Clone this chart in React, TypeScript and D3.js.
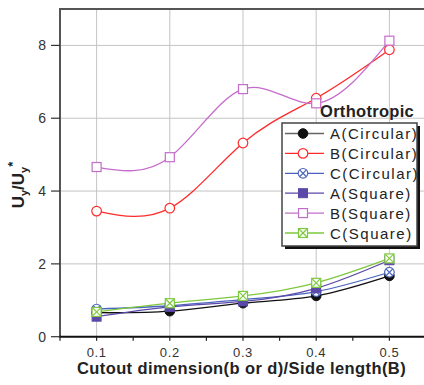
import React from "react";
import * as d3 from "d3";

const xs = [0.1, 0.2, 0.3, 0.4, 0.5];
const aCircular = [0.66, 0.7, 0.92, 1.12, 1.67];
const bCircular = [3.45, 3.53, 5.32, 6.55, 7.88];
const cCircular = [0.76, 0.85, 1.02, 1.24, 1.77];
const aSquare = [0.55, 0.82, 0.97, 1.33, 2.1];
const bSquare = [4.66, 4.93, 6.8, 6.41, 8.13];
const cSquare = [0.68, 0.92, 1.12, 1.48, 2.15];
const xTickLabels = ["0.1", "0.2", "0.3", "0.4", "0.5"];
const yTicks = [0, 2, 4, 6, 8];
const seriesNames = ["A(Circular)", "B(Circular)", "C(Circular)", "A(Square)", "B(Square)", "C(Square)"];

type Marker = "filledCircle" | "openCircle" | "xCircle" | "filledSquare" | "openSquare" | "xSquare";

const series: { name: string; values: number[]; color: string; legendColor: string; marker: Marker }[] = [
  { name: seriesNames[0], values: aCircular, color: "#111", legendColor: "#666", marker: "filledCircle" },
  { name: seriesNames[1], values: bCircular, color: "#ff2a2a", legendColor: "#ff2a2a", marker: "openCircle" },
  { name: seriesNames[2], values: cCircular, color: "#4a64bd", legendColor: "#4a64bd", marker: "xCircle" },
  { name: seriesNames[3], values: aSquare, color: "#5b48a8", legendColor: "#5b48a8", marker: "filledSquare" },
  { name: seriesNames[4], values: bSquare, color: "#c46ccb", legendColor: "#c46ccb", marker: "openSquare" },
  { name: seriesNames[5], values: cSquare, color: "#7ec83e", legendColor: "#7ec83e", marker: "xSquare" },
];

function MarkerShape({ type, x, y, color }: { type: Marker; x: number; y: number; color: string }) {
  const r = 4.8;
  const s = 4.5;
  switch (type) {
    case "filledCircle":
      return <circle cx={x} cy={y} r={r} fill="#111" stroke="#111" />;
    case "openCircle":
      return <circle cx={x} cy={y} r={r} fill="#fff" stroke={color} strokeWidth={1.2} />;
    case "xCircle":
      return (
        <g stroke={color} strokeWidth={1.2} fill="#fff">
          <circle cx={x} cy={y} r={r} />
          <line x1={x - 3.2} y1={y - 3.2} x2={x + 3.2} y2={y + 3.2} />
          <line x1={x - 3.2} y1={y + 3.2} x2={x + 3.2} y2={y - 3.2} />
        </g>
      );
    case "filledSquare":
      return <rect x={x - s} y={y - s} width={2 * s} height={2 * s} fill={color} stroke={color} />;
    case "openSquare":
      return <rect x={x - s} y={y - s} width={2 * s} height={2 * s} fill="#fff" stroke={color} strokeWidth={1.2} />;
    case "xSquare":
      return (
        <g stroke={color} strokeWidth={1.2} fill="#fff">
          <rect x={x - s} y={y - s} width={2 * s} height={2 * s} />
          <line x1={x - s} y1={y - s} x2={x + s} y2={y + s} />
          <line x1={x - s} y1={y + s} x2={x + s} y2={y - s} />
        </g>
      );
  }
}

export default function App() {
  const W = 424;
  const H = 385;
  const left = 60;
  const top = 9;
  const bottom = 336.7;
  const x = d3.scaleLinear().domain([0.05, 0.55]).range([left, 426]);
  const y = d3.scaleLinear().domain([0, 9]).range([bottom, top]);
  const line = d3
    .line<number>()
    .x((_, i) => x(xs[i]))
    .y((d) => y(d))
    .curve(d3.curveNatural);

  const minorX = d3.range(0.05, 0.551, 0.05);
  const font = "Arial, 'Liberation Sans', sans-serif";

  const lgX = 282;
  const lgY = 123;
  const lgW = 135;
  const lgH = 123;
  const rowH = 19.9;

  return (
    <svg width={W} height={H} style={{ position: "absolute", left: 0, top: 0, background: "#fff" }} fontFamily={font}>
      {/* grid */}
      {xs.map((v) => (
        <line key={"gx" + v} x1={x(v)} x2={x(v)} y1={top} y2={bottom} stroke="#c4c4c4" strokeWidth={1} />
      ))}
      {yTicks.filter((v) => v > 0).map((v) => (
        <line key={"gy" + v} x1={left} x2={W} y1={y(v)} y2={y(v)} stroke="#c4c4c4" strokeWidth={1} />
      ))}
      {/* frame */}
      <line x1={left} x2={W} y1={top} y2={top} stroke="#555" strokeWidth={2} />
      <line x1={left} x2={left} y1={top - 1} y2={bottom} stroke="#555" strokeWidth={2} />
      <line x1={left - 1} x2={W} y1={bottom} y2={bottom} stroke="#111" strokeWidth={2} />
      {/* x ticks */}
      {minorX.map((v, i) => (
        <line key={"tx" + i} x1={x(v)} x2={x(v)} y1={bottom} y2={bottom + 4} stroke="#222" strokeWidth={1.2} />
      ))}
      {xs.map((v, i) => (
        <text key={"lx" + i} x={x(v)} y={356.5} textAnchor="middle" fontSize={13} fill="#333" letterSpacing={0.6}>
          {xTickLabels[i]}
        </text>
      ))}
      {/* y ticks */}
      {yTicks.map((v) => (
        <g key={"ty" + v}>
          <line x1={left - 9} x2={left} y1={y(v)} y2={y(v)} stroke="#333" strokeWidth={1.2} />
          <text x={46} y={y(v) + 5} textAnchor="end" fontSize={14} fill="#333">
            {v}
          </text>
        </g>
      ))}
      {/* axis titles */}
      <text x={241.5} y={373.5} textAnchor="middle" fontSize={16.5} fontWeight="bold" fill="#222" letterSpacing={0.4}>
        Cutout dimension(b or d)/Side length(B)
      </text>
      <text transform="translate(24,185) rotate(-90)" textAnchor="middle" fontSize={17} fontWeight="bold" fill="#222">
        U<tspan fontSize={11} dy={4}>y</tspan>
        <tspan dy={-4}>/U</tspan>
        <tspan fontSize={11} dy={4}>y</tspan>
        <tspan fontSize={13} dy={-11}>*</tspan>
      </text>
      {/* series */}
      {series.map((s) => (
        <path key={"p" + s.name} d={line(s.values) || ""} fill="none" stroke={s.color} strokeWidth={1.3} />
      ))}
      {series.map((s) =>
        s.values.map((v, i) => <MarkerShape key={s.name + i} type={s.marker} x={x(xs[i])} y={y(v)} color={s.color} />)
      )}
      {/* legend */}
      <text x={320} y={117} fontSize={16.5} fontWeight="bold" fill="#222" letterSpacing={0.3}>
        Orthotropic
      </text>
      <rect x={lgX + 3} y={lgY + 3} width={lgW} height={lgH} fill="#111" />
      <rect x={lgX} y={lgY} width={lgW} height={lgH} fill="#fff" stroke="#444" strokeWidth={1.5} />
      {series.map((s, i) => {
        const cy = lgY + 10.5 + i * rowH;
        return (
          <g key={"lg" + s.name}>
            <line x1={lgX + 3} x2={lgX + 42} y1={cy} y2={cy} stroke={s.legendColor} strokeWidth={1.3} />
            <MarkerShape type={s.marker} x={lgX + 21} y={cy} color={s.color} />
            <text x={lgX + 48} y={cy + 5.5} fontSize={15} fill="#222" letterSpacing={1.5}>
              {s.name}
            </text>
          </g>
        );
      })}
    </svg>
  );
}
